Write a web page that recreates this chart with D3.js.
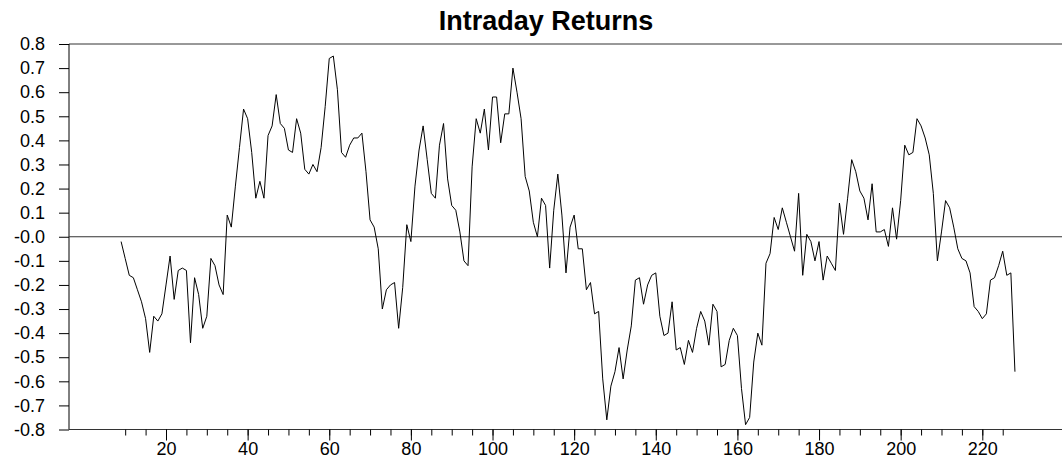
<!DOCTYPE html>
<html>
<head>
<meta charset="utf-8">
<title>Intraday Returns</title>
<script src="https://cdn.jsdelivr.net/npm/d3@7"></script>
<style>
    html, body { margin: 0; padding: 0; background: #fff; }
    svg { display: block; font-family: "Liberation Sans", Arial, sans-serif; }
</style>
</head>
<body>
<svg id="chart" width="1062" height="461"></svg>
<script>
(function () {
    'use strict';

    var firstPeriod = 9;
    var returns = [
        -0.02, -0.09, -0.16, -0.17, -0.22, -0.27, -0.34, -0.48, -0.33, -0.35,
        -0.32, -0.20, -0.08, -0.26, -0.14, -0.13, -0.14, -0.44, -0.17, -0.24,
        -0.38, -0.33, -0.09, -0.12, -0.20, -0.24, 0.09, 0.04, 0.21, 0.37,
        0.53, 0.49, 0.35, 0.16, 0.23, 0.16, 0.42, 0.46, 0.59, 0.47,
        0.45, 0.36, 0.35, 0.49, 0.43, 0.28, 0.26, 0.30, 0.27, 0.37,
        0.54, 0.74, 0.75, 0.61, 0.35, 0.33, 0.38, 0.41, 0.41, 0.43,
        0.27, 0.07, 0.04, -0.05, -0.30, -0.22, -0.20, -0.19, -0.38, -0.21,
        0.05, -0.02, 0.21, 0.36, 0.46, 0.32, 0.18, 0.16, 0.38, 0.47,
        0.24, 0.13, 0.11, 0.02, -0.10, -0.12, 0.29, 0.49, 0.43, 0.53,
        0.36, 0.58, 0.58, 0.39, 0.51, 0.51, 0.70, 0.60, 0.49, 0.25,
        0.19, 0.06, 0.00, 0.16, 0.13, -0.13, 0.11, 0.26, 0.09, -0.15,
        0.04, 0.09, -0.05, -0.05, -0.22, -0.19, -0.32, -0.31, -0.59, -0.76,
        -0.62, -0.56, -0.46, -0.59, -0.47, -0.37, -0.18, -0.17, -0.28, -0.20,
        -0.16, -0.15, -0.33, -0.41, -0.40, -0.27, -0.47, -0.46, -0.53, -0.43,
        -0.48, -0.38, -0.31, -0.35, -0.45, -0.28, -0.31, -0.54, -0.53, -0.43,
        -0.38, -0.41, -0.63, -0.78, -0.75, -0.52, -0.40, -0.45, -0.11, -0.07,
        0.08, 0.03, 0.12, 0.06, 0.00, -0.06, 0.18, -0.16, 0.01, -0.02,
        -0.10, -0.02, -0.18, -0.08, -0.11, -0.14, 0.14, 0.01, 0.16, 0.32,
        0.27, 0.19, 0.16, 0.07, 0.22, 0.02, 0.02, 0.03, -0.04, 0.12,
        -0.01, 0.15, 0.38, 0.34, 0.35, 0.49, 0.46, 0.41, 0.34, 0.18,
        -0.10, 0.02, 0.15, 0.12, 0.04, -0.05, -0.09, -0.10, -0.15, -0.29,
        -0.31, -0.34, -0.32, -0.18, -0.17, -0.12, -0.06, -0.16, -0.15, -0.56
    ];
    var xMajorTicks = [20, 40, 60, 80, 100, 120, 140, 160, 180, 200, 220];
    var xMinorTicks = d3.range(10, 226, 5);
    var yTicks = [0.8, 0.7, 0.6, 0.5, 0.4, 0.3, 0.2, 0.1, 0, -0.1, -0.2, -0.3, -0.4, -0.5, -0.6, -0.7, -0.8];
    var yTickLabels = ["0.8", "0.7", "0.6", "0.5", "0.4", "0.3", "0.2", "0.1", "-0.0",
        "-0.1", "-0.2", "-0.3", "-0.4", "-0.5", "-0.6", "-0.7", "-0.8"];

    var left = 69, right = 1062, top = 44, bottom = 429.5;

    var x = d3.scaleLinear().domain([20, 220]).range([166, 982.3]);
    var y = d3.scaleLinear().domain([-0.8, 0.8]).range([bottom, top]);

    var svg = d3.select("#chart");

    svg.append("text")
        .attr("x", 546)
        .attr("y", 30)
        .attr("text-anchor", "middle")
        .attr("font-size", 27)
        .attr("font-weight", "bold")
        .text("Intraday Returns");

    // frame: top border, left axis, zero line, bottom axis
    svg.append("line")
        .attr("x1", left).attr("y1", top).attr("x2", right).attr("y2", top)
        .style("stroke", "#333").style("stroke-width", "1px");
    svg.append("line")
        .attr("x1", left).attr("y1", top).attr("x2", left).attr("y2", bottom)
        .style("stroke", "#000").style("stroke-width", "1px");
    svg.append("line")
        .attr("x1", left).attr("y1", y(0)).attr("x2", right).attr("y2", y(0))
        .style("stroke", "#333").style("stroke-width", "1px");
    svg.append("line")
        .attr("x1", left).attr("y1", bottom).attr("x2", right).attr("y2", bottom)
        .style("stroke", "#333").style("stroke-width", "1px");

    var yAxis = svg.append("g")
        .attr("transform", "translate(" + left + ",0)")
        .call(d3.axisLeft(y)
            .tickValues(yTicks)
            .tickSize(10)
            .tickPadding(14)
            .tickFormat(function (d, i) { return yTickLabels[i]; }));
    yAxis.select(".domain").remove();
    yAxis.attr("font-size", 18).attr("font-family", "'Liberation Sans', Arial, sans-serif");

    var xMinor = svg.append("g")
        .attr("transform", "translate(0," + bottom + ")")
        .call(d3.axisBottom(x).tickValues(xMinorTicks).tickSize(6).tickFormat(""));
    xMinor.select(".domain").remove();

    var xMajor = svg.append("g")
        .attr("transform", "translate(0," + bottom + ")")
        .call(d3.axisBottom(x).tickValues(xMajorTicks).tickSize(11).tickPadding(2));
    xMajor.select(".domain").remove();
    xMajor.attr("font-size", 18).attr("font-family", "'Liberation Sans', Arial, sans-serif");

    svg.selectAll(".tick text").attr("fill", "#000");
    svg.selectAll(".tick line").attr("stroke", "#000");

    var line = d3.line()
        .x(function (d, i) { return x(firstPeriod + i); })
        .y(function (d) { return y(d); });

    svg.append("path")
        .datum(returns)
        .attr("d", line)
        .style("fill", "none")
        .style("stroke", "#000")
        .style("stroke-width", "1px")
        .style("stroke-linejoin", "miter");
}());
</script>
</body>
</html>
